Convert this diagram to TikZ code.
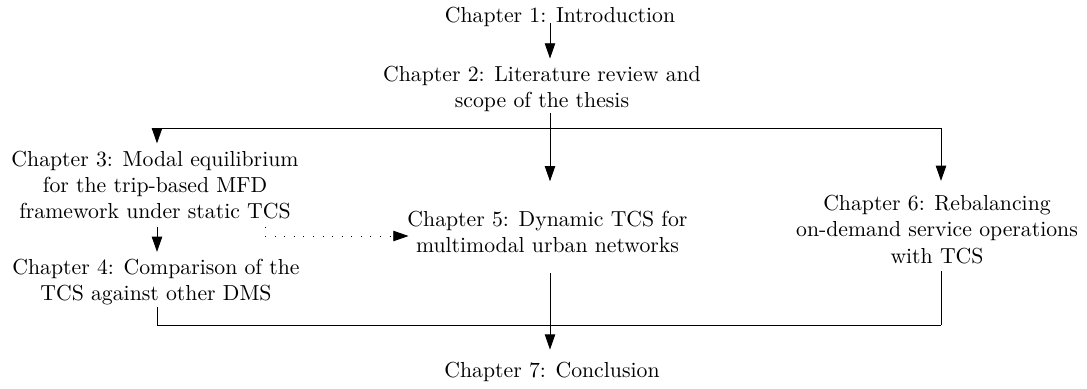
\documentclass[tikz,border=0pt]{standalone}
\usetikzlibrary{arrows.meta,calc}
\begin{document}
\begin{tikzpicture}[x=0.46pt,y=-0.46pt,
  chap/.style={align=center,inner sep=3.33pt},
  arr/.style={-{Triangle[length=7pt,width=4.8pt]}},
  link/.style={line width=0.4pt},
  dotarr/.style={loosely dotted,-{Triangle[length=7pt,width=4.8pt]}}]
\useasboundingbox (0,0) rectangle (1087,388);
% columns and levels
\coordinate (cL) at (157,0);
\coordinate (cM) at (550,0);
\coordinate (cR) at (941,0);
\coordinate (bus1) at (0,128);
\coordinate (bus2) at (0,325);
\coordinate (cD) at (265,236);
% nodes
\node[chap] (ch1) at (560,16.6) {Chapter 1: Introduction};
\node[chap] (ch2) at (542,89) {Chapter 2: Literature review and\\scope of the thesis};
\node[chap] (ch3) at (155,185) {Chapter 3: Modal equilibrium\\for the trip-based MFD\\framework under static TCS};
\node[chap] (ch4) at (156,282.5) {Chapter 4: Comparison of the\\TCS against other DMS};
\node[chap] (ch5) at (547.5,231.5) {Chapter 5: Dynamic TCS for\\multimodal urban networks};
\node[chap] (ch6) at (937,229.5) {Chapter 6: Rebalancing\\on-demand service operations\\with TCS};
\node[chap] (ch7) at (552,372) {Chapter 7: Conclusion};
% connectors
\draw[link,arr,shorten <=-5.2pt] (ch1.south -| cM) -- (ch2.north -| cM);
\draw[link,shorten <=-3pt] (ch2.south -| cM) -- (cM |- bus1);
\draw[link] (cL |- bus1) -- (cR |- bus1);
\draw[link,arr] (cL |- bus1) -- (ch3.north -| cL);
\draw[link,arr,shorten >=10pt] (cM |- bus1) -- (ch5.north -| cM);
\draw[link,arr,shorten >=3.2pt] (cR |- bus1) -- (ch6.north -| cR);
\draw[link,arr] (ch3.south -| cL) -- (ch4.north -| cL);
\draw[link,dotarr,shorten >=-4pt] (ch3.south -| cD) |- (ch5.west |- cD);
\draw[link,shorten <=-2.8pt] (ch4.south -| cL) -- (cL |- bus2);
\draw[link] (cL |- bus2) -- (cR |- bus2);
\draw[link] (ch6.south -| cR) -- (cR |- bus2);
\draw[link,arr,shorten <=6pt,shorten >=2.3pt] (ch5.south -| cM) -- (ch7.north -| cM);
\end{tikzpicture}
\end{document}
